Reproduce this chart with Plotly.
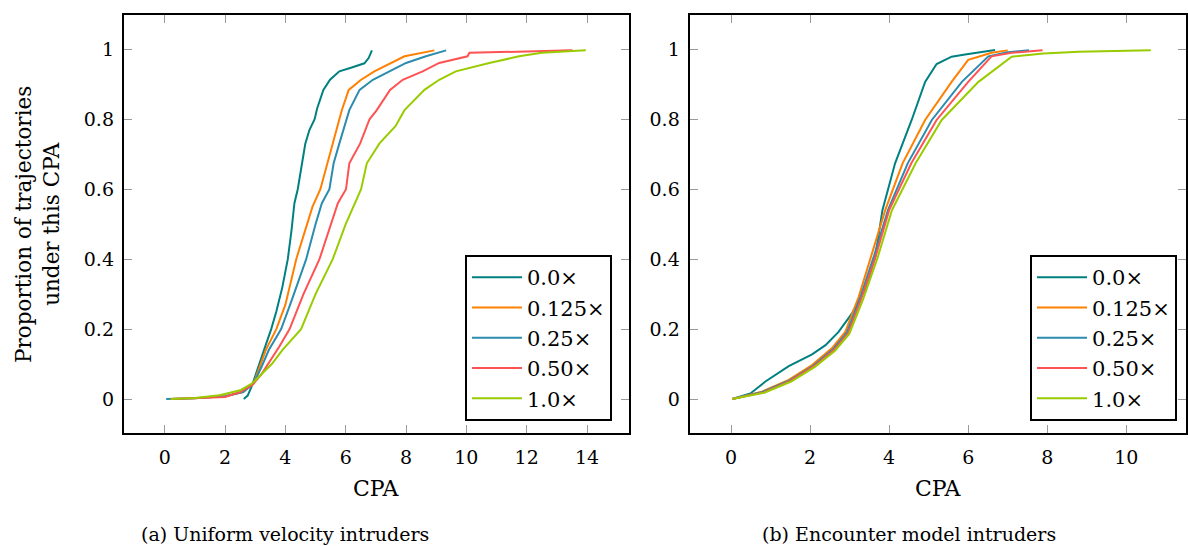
import plotly.graph_objects as go

# ---------------- data: (a) Uniform velocity intruders ----------------
series_names = ["0.0×", "0.125×", "0.25×", "0.50×", "1.0×"]
series_colors = ["#008080", "#FF8000", "#2B8CAE", "#FF5252", "#99CC00"]

uv_x_000 = [2.62, 2.75, 2.9, 3.05, 3.2, 3.37, 3.53, 3.7, 3.9, 4.08, 4.2, 4.3, 4.41, 4.55, 4.66, 4.8,
            4.97, 5.05, 5.26, 5.48, 5.79, 6.2, 6.62, 6.76, 6.87]
uv_y_000 = [0.0, 0.01, 0.04, 0.08, 0.12, 0.16, 0.2, 0.25, 0.32, 0.4, 0.48, 0.56, 0.6, 0.67, 0.73, 0.77,
            0.8, 0.83, 0.884, 0.913, 0.937, 0.948, 0.96, 0.975, 0.997]

uv_x_0125 = [0.2, 1.0, 2.0, 2.6, 2.95, 3.15, 3.35, 3.7, 4.0, 4.36, 4.6, 4.9, 5.16, 5.4, 5.57, 5.79,
             5.87, 6.1, 6.51, 6.95, 7.5, 7.95, 8.94]
uv_y_0125 = [0.0, 0.002, 0.008, 0.02, 0.045, 0.09, 0.14, 0.2, 0.27, 0.4, 0.47, 0.55, 0.6, 0.674, 0.731, 0.8,
             0.826, 0.884, 0.913, 0.937, 0.961, 0.98, 0.997]

uv_x_025 = [0.05, 1.0, 2.0, 2.6, 2.95, 3.2, 3.45, 3.86, 4.2, 4.69, 5.0, 5.21, 5.46, 5.6, 5.79, 6.02,
            6.12, 6.46, 6.9, 7.45, 8.0, 8.66, 9.33]
uv_y_025 = [0.0, 0.002, 0.008, 0.02, 0.045, 0.09, 0.14, 0.2, 0.28, 0.4, 0.5, 0.56, 0.6, 0.674, 0.731, 0.8,
            0.826, 0.884, 0.913, 0.937, 0.961, 0.98, 0.997]

uv_x_050 = [0.2, 1.0, 2.0, 2.5, 2.9, 3.2, 3.5, 3.8, 4.14, 4.6, 5.13, 5.5, 5.74, 6.01, 6.12, 6.48,
            6.79, 7.03, 7.47, 7.89, 8.55, 9.1, 10.04, 10.1, 13.52]
uv_y_050 = [0.0, 0.002, 0.006, 0.02, 0.04, 0.07, 0.11, 0.15, 0.2, 0.3, 0.4, 0.5, 0.56, 0.6, 0.674, 0.731,
            0.8, 0.826, 0.884, 0.913, 0.937, 0.961, 0.98, 0.99, 0.997]

uv_x_100 = [0.2, 1.0, 1.82, 2.5, 2.9, 3.2, 3.55, 3.9, 4.52, 5.0, 5.57, 6.0, 6.29, 6.51, 6.7, 7.12,
            7.65, 7.84, 7.95, 8.61, 9.1, 9.65, 10.76, 11.75, 12.5, 13.96]
uv_y_100 = [0.0, 0.003, 0.011, 0.025, 0.045, 0.07, 0.1, 0.14, 0.2, 0.3, 0.4, 0.5, 0.56, 0.6, 0.674, 0.731,
            0.78, 0.81, 0.826, 0.884, 0.913, 0.937, 0.961, 0.98, 0.99, 0.997]

# ---------------- data: (b) Encounter model intruders ----------------
em_x_000 = [0.03, 0.49, 0.87, 1.46, 2.05, 2.39, 2.72, 3.06, 3.39, 3.65, 3.83, 4.15, 4.57, 4.91, 5.2, 5.58, 5.92, 6.68]
em_y_000 = [0.0, 0.016, 0.05, 0.094, 0.128, 0.154, 0.192, 0.245, 0.312, 0.407, 0.54, 0.674, 0.798, 0.907, 0.958, 0.979, 0.985, 0.998]

em_x_0125 = [0.03, 0.78, 1.46, 2.05, 2.55, 2.89, 3.23, 3.56, 3.9, 4.34, 4.91, 5.58, 6.0, 6.59, 7.0]
em_y_0125 = [0.0, 0.021, 0.055, 0.097, 0.145, 0.192, 0.292, 0.411, 0.54, 0.674, 0.798, 0.907, 0.97, 0.99, 0.997]

em_x_025 = [0.03, 0.8, 1.48, 2.08, 2.58, 2.93, 3.27, 3.62, 3.97, 4.47, 5.08, 5.84, 6.51, 7.0, 7.54]
em_y_025 = [0.0, 0.02, 0.053, 0.095, 0.142, 0.19, 0.29, 0.41, 0.54, 0.674, 0.798, 0.907, 0.98, 0.992, 0.997]

em_x_050 = [0.03, 0.82, 1.5, 2.1, 2.6, 2.96, 3.3, 3.66, 4.0, 4.56, 5.2, 6.0, 6.59, 7.1, 7.88]
em_y_050 = [0.0, 0.019, 0.052, 0.094, 0.14, 0.188, 0.288, 0.408, 0.54, 0.674, 0.798, 0.907, 0.98, 0.99, 0.997]

em_x_100 = [0.03, 0.84, 1.52, 2.12, 2.63, 2.99, 3.34, 3.71, 4.07, 4.67, 5.33, 6.26, 7.1, 7.9, 8.8, 10.62]
em_y_100 = [0.0, 0.018, 0.05, 0.092, 0.138, 0.186, 0.285, 0.405, 0.54, 0.674, 0.798, 0.907, 0.979, 0.988, 0.993, 0.997]

uv_xs = [uv_x_000, uv_x_0125, uv_x_025, uv_x_050, uv_x_100]
uv_ys = [uv_y_000, uv_y_0125, uv_y_025, uv_y_050, uv_y_100]
em_xs = [em_x_000, em_x_0125, em_x_025, em_x_050, em_x_100]
em_ys = [em_y_000, em_y_0125, em_y_025, em_y_050, em_y_100]

y_tickvals = [0, 0.2, 0.4, 0.6, 0.8, 1.0]
y_ticktext = ["0", "0.2", "0.4", "0.6", "0.8", "1"]
uv_xticks = [0, 2, 4, 6, 8, 10, 12, 14]
em_xticks = [0, 2, 4, 6, 8, 10]

FONT = "DejaVu Serif"
W, H = 1188, 546

fig = go.Figure()
for i in range(5):
    fig.add_trace(go.Scatter(x=uv_xs[i], y=uv_ys[i], mode="lines", name=series_names[i],
                             line=dict(color=series_colors[i], width=2),
                             xaxis="x", yaxis="y", legend="legend"))
for i in range(5):
    fig.add_trace(go.Scatter(x=em_xs[i], y=em_ys[i], mode="lines", name=series_names[i],
                             line=dict(color=series_colors[i], width=2),
                             xaxis="x2", yaxis="y2", legend="legend2"))

ydom = [1 - 433.3 / H, 1 - 14.7 / H]
axis_common = dict(showline=True, linecolor="black", linewidth=2, mirror="ticks",
                   ticks="inside", ticklen=8, tickwidth=1, tickcolor="#9a9a9a",
                   showgrid=False, zeroline=False,
                   tickfont=dict(family=FONT, size=19, color="black"))

legend_common = dict(xanchor="right", yanchor="bottom",
                     bordercolor="black", borderwidth=2, bgcolor="white",
                     font=dict(family=FONT, size=21, color="black"), itemwidth=50,
                     tracegroupgap=0)

fig.update_layout(
    width=W, height=H, autosize=False,
    margin=dict(l=0, r=0, t=0, b=0),
    paper_bgcolor="white", plot_bgcolor="white",
    xaxis=dict(domain=[124 / W, 630 / W], range=[-1.357, 15.39], tickvals=uv_xticks,
               anchor="y", ticklabelstandoff=6, **axis_common),
    yaxis=dict(domain=ydom, range=[-0.098, 1.099], tickvals=y_tickvals, ticktext=y_ticktext,
               anchor="x", ticklabelstandoff=4, **axis_common),
    xaxis2=dict(domain=[690.7 / W, 1.0], range=[-1.05, 11.51], tickvals=em_xticks,
                anchor="y2", ticklabelstandoff=6, **axis_common),
    yaxis2=dict(domain=ydom, range=[-0.098, 1.099], tickvals=y_tickvals, ticktext=y_ticktext,
                anchor="x2", ticklabelstandoff=4, **axis_common),
    legend=dict(x=613 / W, y=1 - 421 / H, **legend_common),
    legend2=dict(x=1179 / W, y=1 - 421 / H, **legend_common),
    showlegend=True,
)

annots = [
    dict(text="CPA", x=377 / W, y=1 - 488 / H, size=22),
    dict(text="CPA", x=940 / W, y=1 - 488 / H, size=22),
    dict(text="(a) Uniform velocity intruders", x=285 / W, y=1 - 534 / H, size=19),
    dict(text="(b) Encounter model intruders", x=911 / W, y=1 - 534 / H, size=19),
]
for a in annots:
    fig.add_annotation(xref="paper", yref="paper", showarrow=False, xanchor="center", yanchor="middle",
                       x=a["x"], y=a["y"], text=a["text"],
                       font=dict(family=FONT, size=a["size"], color="black"))
fig.add_annotation(xref="paper", yref="paper", showarrow=False, xanchor="center", yanchor="middle",
                   x=37 / W, y=1 - 224 / H, textangle=-90,
                   text="Proportion of trajectories<br>under this CPA",
                   font=dict(family=FONT, size=21.5, color="black"))

fig.write_html("out.html", config={"displayModeBar": False},
               post_script="document.body.style.margin='0';")
